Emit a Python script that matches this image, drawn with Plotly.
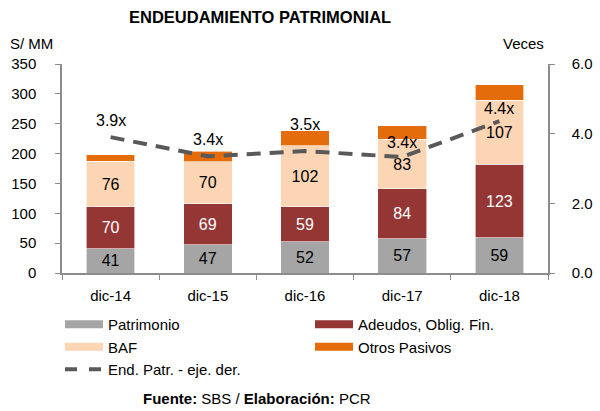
import plotly.graph_objects as go

categories = ["dic-14", "dic-15", "dic-16", "dic-17", "dic-18"]
patrimonio = [41, 47, 52, 57, 59]
adeudos = [70, 69, 59, 84, 123]
baf = [76, 70, 102, 83, 107]
otros = [11, 18, 25, 23, 26]
end_patr = [3.9, 3.35, 3.5, 3.33, 4.36]
end_patr_labels = ["3.9x", "3.4x", "3.5x", "3.4x", "4.4x"]
label_lift = [17, 17, 27, 15, 13]  # label offsets above the line, in px (style)

FONT = "Arial, Liberation Sans, sans-serif"
C_PAT = "#A5A5A5"
C_ADE = "#943634"
C_BAF = "#FCD5B5"
C_OTR = "#E46C0A"
C_LINE = "#595959"
AXIS = "#8C8C8C"

W, H = 600, 411
L, R, T, B = 62, 52, 64, 138
PW, PH = W - L - R, H - T - B


def px_x(px):
    return (px - L) / PW


def px_y(py):
    return (H - B - py) / PH


fig = go.Figure()


def bar(name, vals, color, textcolor, show_text=True):
    fig.add_trace(go.Bar(
        x=categories, y=vals, name=name, showlegend=False,
        marker=dict(color=color, line=dict(color="white", width=0.6)),
        text=[str(v) for v in vals] if show_text else None,
        textposition="inside" if show_text else "none",
        insidetextanchor="middle", textangle=0,
        textfont=dict(color=textcolor, size=16, family=FONT),
        hoverinfo="skip",
    ))


bar("Patrimonio", patrimonio, C_PAT, "black")
bar("Adeudos, Oblig. Fin.", adeudos, C_ADE, "white")
bar("BAF", baf, C_BAF, "black")
bar("Otros Pasivos", otros, C_OTR, "black", show_text=False)

fig.add_trace(go.Scatter(
    x=categories, y=end_patr, yaxis="y2", mode="lines",
    name="End. Patr. - eje. der.",
    line=dict(color=C_LINE, width=4, dash="14px,9px"),
    showlegend=False, hoverinfo="skip",
))

# legend entries
legend_items = [
    ("Patrimonio", C_PAT),
    ("Adeudos, Oblig. Fin.", C_ADE),
    ("BAF", C_BAF),
    ("Otros Pasivos", C_OTR),
]
for name, color in legend_items:
    fig.add_trace(go.Scatter(
        x=[None], y=[None], mode="lines", name=name,
        line=dict(color=color, width=8), showlegend=True,
    ))
fig.add_trace(go.Scatter(
    x=[None], y=[None], mode="lines", name="End. Patr. - eje. der.",
    line=dict(color=C_LINE, width=4, dash="dash"), showlegend=True,
))

annotations = [
    dict(x=c, y=v, xref="x", yref="y2", text=t, showarrow=False,
         yshift=s, font=dict(size=16, family=FONT, color="black"))
    for c, v, t, s in zip(categories, end_patr, end_patr_labels, label_lift)
]
annotations += [
    dict(text="S/ MM", xref="paper", yref="paper", x=px_x(31), y=px_y(44),
         xanchor="center", yanchor="middle", showarrow=False, font=dict(size=15)),
    dict(text="Veces", xref="paper", yref="paper", x=px_x(523), y=px_y(44),
         xanchor="center", yanchor="middle", showarrow=False, font=dict(size=15)),
    dict(text="<b>Fuente:</b> SBS / <b>Elaboración:</b> PCR", xref="paper", yref="paper",
         x=px_x(257), y=px_y(398), xanchor="center", yanchor="middle",
         showarrow=False, font=dict(size=15)),
    dict(text="<b>ENDEUDAMIENTO PATRIMONIAL</b>", xref="paper", yref="paper",
         x=px_x(260), y=px_y(17), xanchor="center", yanchor="middle",
         showarrow=False, font=dict(size=16.5)),
]

fig.update_layout(
    width=W, height=H,
    margin=dict(l=L, r=R, t=T, b=B, autoexpand=False),
    paper_bgcolor="white", plot_bgcolor="white",
    barmode="stack", bargap=0.5,
    font=dict(family=FONT, size=15, color="black"),
    xaxis=dict(showline=True, linecolor=AXIS, linewidth=1.5, ticks="outside",
               tickcolor=AXIS, ticklen=5, tickson="boundaries", automargin=False,
               tickfont=dict(size=15), showgrid=False, fixedrange=True,
               ticklabelstandoff=8),
    yaxis=dict(range=[0, 350], dtick=50, showline=True, linecolor=AXIS, linewidth=1.5,
               ticks="outside", tickcolor=AXIS, ticklen=5, showgrid=False, zeroline=False,
               tickfont=dict(size=15), ticklabelstandoff=16, automargin=False),
    yaxis2=dict(range=[0, 6], dtick=2, tickformat=".1f", overlaying="y", side="right",
                showline=True, linecolor=AXIS, linewidth=1.5, ticks="outside",
                tickcolor=AXIS, ticklen=5, showgrid=False, zeroline=False,
                tickfont=dict(size=15), ticklabelstandoff=14, automargin=False),
    legend=dict(orientation="h", traceorder="normal",
                x=px_x(60), y=px_y(308), xanchor="left", yanchor="top",
                entrywidth=197, entrywidthmode="pixels",
                font=dict(size=15), itemwidth=38,
                bgcolor="rgba(0,0,0,0)"),
    annotations=annotations,
)

fig.write_html("out.html", config={"displayModeBar": False},
               post_script="document.body.style.margin='0';")
